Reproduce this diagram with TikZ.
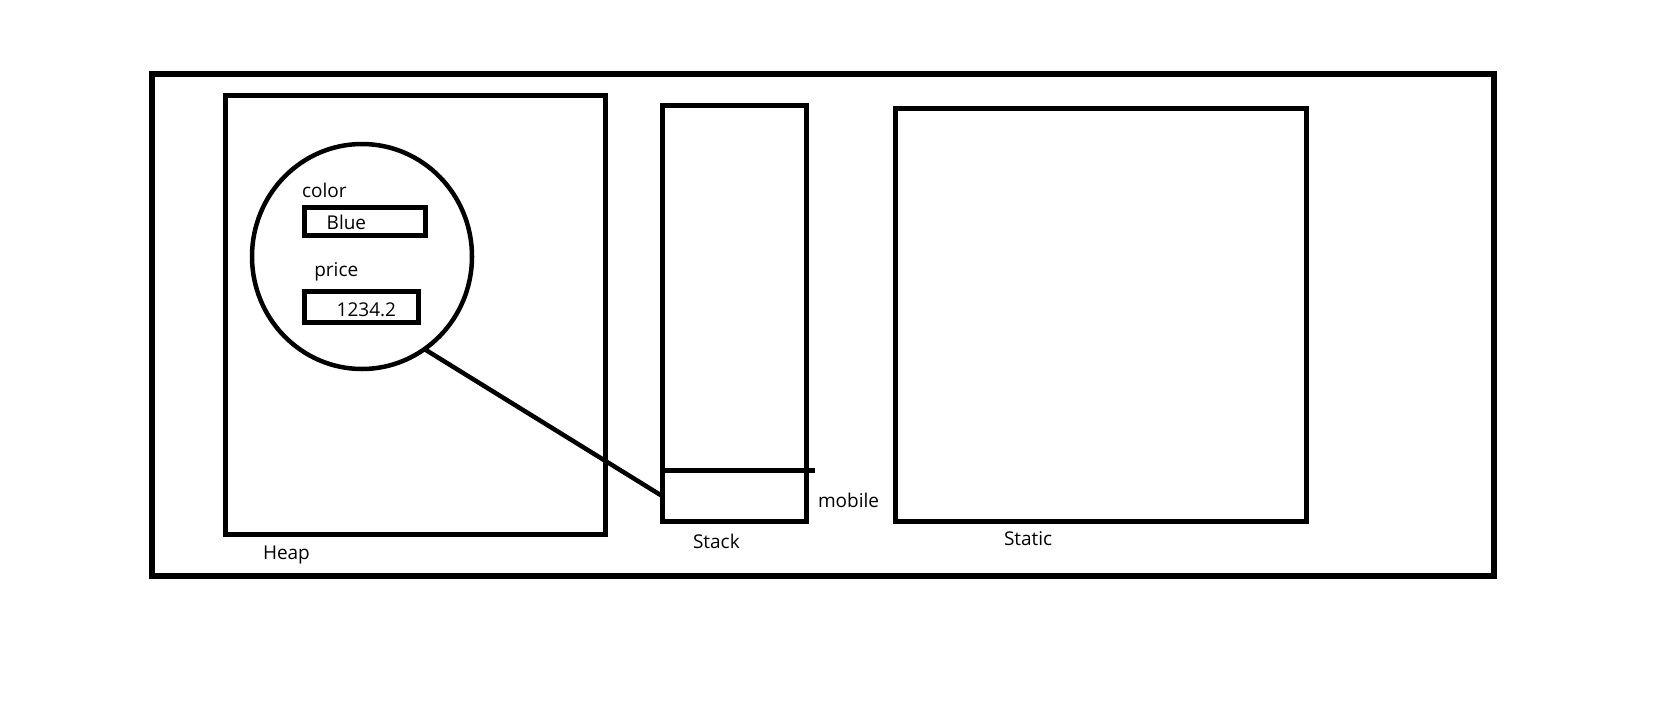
\documentclass[tikz,border=0pt]{standalone}
\usepackage{fontspec}
\setmainfont{Open Sans}
\usetikzlibrary{shapes.geometric}
\begin{document}
\begin{tikzpicture}[x=1pt,y=-1pt,
  box/.style={draw=black, line width=5pt, inner sep=0pt, outer sep=0pt, minimum width=#1},
  thinbox/.style={draw=black, line width=4.5pt, inner sep=0pt, outer sep=0pt},
  lbl/.style={anchor=base west, inner sep=0pt, outer sep=0pt, font=\fontsize{19}{23}\selectfont},
  link/.style={draw=black, line width=4.5pt}]
\useasboundingbox (0,0) rectangle (1665,716);
\fill[white] (0,0) rectangle (1665,716);
% outer frame
\node[box=1342pt, minimum height=502pt, line width=5.5pt] (outer) at (823,325) {};
% heap
\node[box=380.5pt, minimum height=439pt] (heap) at (415.25,315.1) {};
% stack
\node[box=144pt, minimum height=416.3pt] (stack) at (734,313.2) {};
\node[inner sep=0pt, outer sep=0pt, minimum width=144pt, minimum height=50.8pt] (cell) at (734,495.9) {};
\coordinate (divend) at (815,470.5);
\draw[link, line width=5pt] (cell.north west) -- (divend);
% static
\node[box=411pt, minimum height=413.5pt] (static) at (1100.5,314.75) {};
% object
\node[ellipse, draw=black, line width=4.5pt, inner sep=0pt, outer sep=0pt, minimum width=220pt, minimum height=225pt] (obj) at (362,256.5) {};
\node[thinbox, minimum width=121pt, minimum height=28pt] (bluebox) at (364.8,221.7) {};
\node[thinbox, minimum width=114.4pt, minimum height=31pt] (pricebox) at (361.5,306.8) {};
% texts
\node[lbl] (tcolor) at (302,197.7) {color};
\node[lbl] (tblue) at (326.7,229.3) {Blue};
\node[lbl] (tprice) at (314.3,276) {price};
\node[lbl] (tval) at (336.7,316) {1234.2};
\node[lbl] (theap) at (263,559) {Heap};
\node[lbl] (tstack) at (693,548) {Stack};
\node[lbl] (tmobile) at (818,507.7) {mobile};
\node[lbl] (tstatic) at (1004,545) {Static};
% reference
\draw[link] (obj.-56) -- (cell.west);
\end{tikzpicture}
\end{document}
